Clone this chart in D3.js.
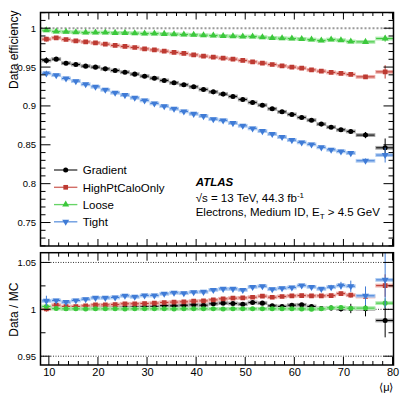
<!DOCTYPE html>
<html><head><meta charset="utf-8">
<script src="https://cdn.jsdelivr.net/npm/d3@7"></script>
<style>
body{margin:0;background:#fff}
svg{display:block}
text{font-family:"Liberation Sans",Arial,Helvetica,sans-serif;fill:#000}
</style>
</head><body>
<svg id="c" width="407" height="395"></svg>
<script>
// ---------------- data ----------------
const muCenters = [9.5, 11.5, 13.5, 15.5, 17.5, 19.5, 21.5, 23.5, 25.5, 27.5, 29.5, 31.5, 33.5, 35.5, 37.5, 39.5,
  41.5, 43.5, 45.5, 47.5, 49.5, 51.5, 53.5, 55.5, 57.5, 59.5, 61.5, 63.5, 65.5, 67.5, 69.5, 71.5, 74.5, 78.5];
const muHalfWidths = [1,1,1,1,1,1,1,1,1,1,1,1,1,1,1,1,1,1,1,1,1,1,1,1,1,1,1,1,1,1,1,1,2,2];

const seriesNames = ["Gradient", "HighPtCaloOnly", "Loose", "Tight"];

// data efficiency (top panel)
const effGradient = [0.9585, 0.9602, 0.9550, 0.9533, 0.9512, 0.9499, 0.9477, 0.9456, 0.9434, 0.9409, 0.9383, 0.9357,
  0.9328, 0.9297, 0.9272, 0.9246, 0.9212, 0.9181, 0.9152, 0.9122, 0.9083, 0.9045, 0.9010, 0.8963, 0.8924, 0.8891,
  0.8852, 0.8817, 0.8766, 0.8727, 0.8693, 0.8672, 0.8625, 0.8461];
const effHighPt = [0.9859, 0.9876, 0.9855, 0.9837, 0.9824, 0.9811, 0.9794, 0.9778, 0.9765, 0.9752, 0.9734, 0.9721,
  0.9704, 0.9688, 0.9675, 0.9657, 0.9640, 0.9627, 0.9614, 0.9602, 0.9585, 0.9567, 0.9550, 0.9533, 0.9515, 0.9499,
  0.9486, 0.9464, 0.9447, 0.9431, 0.9418, 0.9405, 0.9374, 0.9438];
const effLoose = [0.9974, 0.9958, 0.9953, 0.9949, 0.9945, 0.9945, 0.9945, 0.9940, 0.9940, 0.9936, 0.9932, 0.9932,
  0.9927, 0.9923, 0.9919, 0.9915, 0.9910, 0.9906, 0.9901, 0.9897, 0.9893, 0.9893, 0.9884, 0.9875, 0.9871, 0.9867,
  0.9862, 0.9854, 0.9842, 0.9854, 0.9846, 0.9829, 0.9824, 0.9867];
const effTight = [0.9418, 0.9396, 0.9353, 0.9319, 0.9278, 0.9246, 0.9207, 0.9169, 0.9139, 0.9104, 0.9071, 0.9032,
  0.8997, 0.8963, 0.8929, 0.8898, 0.8869, 0.8830, 0.8814, 0.8779, 0.8744, 0.8711, 0.8676, 0.8638, 0.8599, 0.8560,
  0.8531, 0.8505, 0.8467, 0.8436, 0.8415, 0.8393, 0.8294, 0.8368];

const effErrGradient = [0.004,0.002,0.0012,0.001,0.001,0.001,0.001,0.001,0.001,0.001,0.001,0.001,0.001,0.001,0.001,0.001,
  0.001,0.001,0.001,0.001,0.001,0.001,0.001,0.001,0.001,0.001,0.001,0.0012,0.0012,0.0015,0.0018,0.0025,0.004,0.012];
const effErrHighPt = [0.003,0.0015,0.001,0.001,0.001,0.001,0.001,0.001,0.001,0.001,0.001,0.001,0.001,0.001,0.001,0.001,
  0.001,0.001,0.001,0.001,0.001,0.001,0.001,0.001,0.001,0.001,0.001,0.001,0.001,0.0012,0.0015,0.002,0.0025,0.0086];
const effErrLoose = [0.0015,0.0008,0.0006,0.0006,0.0006,0.0006,0.0006,0.0006,0.0006,0.0006,0.0006,0.0006,0.0006,0.0006,0.0006,0.0006,
  0.0006,0.0006,0.0006,0.0006,0.0006,0.0006,0.0006,0.0006,0.0006,0.0006,0.0006,0.0006,0.0007,0.0008,0.001,0.0012,0.0015,0.004];
const effErrTight = [0.0035,0.0015,0.0012,0.001,0.001,0.001,0.001,0.001,0.001,0.001,0.001,0.001,0.001,0.001,0.001,0.001,
  0.001,0.001,0.001,0.001,0.001,0.001,0.001,0.001,0.001,0.001,0.001,0.0012,0.0012,0.0015,0.002,0.0025,0.003,0.0096];

// data / MC (bottom panel)
const ratioGradient = [1.0013, 1.0016, 1.0009, 1.0016, 1.0019, 1.0019, 1.0023, 1.0019, 1.0019, 1.0023, 1.0027, 1.0027,
  1.0040, 1.0037, 1.0044, 1.0048, 1.0044, 1.0059, 1.0066, 1.0062, 1.0055, 1.0073, 1.0066, 1.0037, 1.0030, 1.0044,
  1.0048, 1.0030, 1.0009, 1.0013, 1.0005, 1.0009, 1.0005, 0.9881];
const ratioHighPt = [1.0005, 1.0044, 1.0030, 1.0030, 1.0037, 1.0048, 1.0048, 1.0051, 1.0059, 1.0059, 1.0062, 1.0066,
  1.0073, 1.0077, 1.0080, 1.0087, 1.0090, 1.0101, 1.0112, 1.0119, 1.0122, 1.0129, 1.0140, 1.0129, 1.0137, 1.0144,
  1.0147, 1.0144, 1.0144, 1.0147, 1.0168, 1.0151, 1.0137, 1.0253];
const ratioLoose = [1.0030, 1.0008, 1.0005, 1.0005, 1.0004, 1.0005, 1.0005, 1.0005, 1.0004, 1.0005, 1.0005, 1.0005,
  1.0005, 1.0004, 1.0005, 1.0005, 1.0005, 1.0005, 1.0004, 1.0005, 1.0005, 1.0005, 1.0005, 1.0005, 1.0005, 1.0005,
  1.0004, 1.0002, 1.0005, 1.0016, 1.0020, 1.0012, 1.0013, 1.0066];
const ratioTight = [1.0090, 1.0094, 1.0077, 1.0094, 1.0108, 1.0122, 1.0122, 1.0126, 1.0144, 1.0133, 1.0147, 1.0147,
  1.0165, 1.0176, 1.0172, 1.0183, 1.0186, 1.0207, 1.0218, 1.0218, 1.0207, 1.0239, 1.0246, 1.0215, 1.0225, 1.0232,
  1.0253, 1.0239, 1.0218, 1.0236, 1.0253, 1.0246, 1.0144, 1.0314];

const ratioErrGradient = [0.003,0.001,0.001,0.001,0.001,0.001,0.001,0.001,0.001,0.001,0.001,0.001,0.001,0.001,0.001,0.001,
  0.001,0.001,0.001,0.001,0.001,0.001,0.001,0.0012,0.0012,0.0012,0.0015,0.0015,0.002,0.0025,0.003,0.005,0.008,0.018];
const ratioErrHighPt = [0.003,0.0012,0.001,0.001,0.001,0.001,0.001,0.001,0.001,0.001,0.001,0.001,0.001,0.001,0.001,0.001,
  0.001,0.001,0.001,0.001,0.001,0.001,0.001,0.001,0.001,0.001,0.001,0.0012,0.0012,0.0015,0.002,0.0025,0.004,0.012];
const ratioErrLoose = [0.002,0.0008,0.0006,0.0006,0.0006,0.0006,0.0006,0.0006,0.0006,0.0006,0.0006,0.0006,0.0006,0.0006,0.0006,0.0006,
  0.0006,0.0006,0.0006,0.0006,0.0006,0.0006,0.0006,0.0006,0.0006,0.0006,0.0006,0.0007,0.0008,0.001,0.0015,0.002,0.0025,0.005];
const ratioErrTight = [0.0055,0.0015,0.0012,0.001,0.001,0.001,0.001,0.001,0.001,0.001,0.001,0.001,0.001,0.001,0.001,0.001,
  0.001,0.001,0.001,0.001,0.001,0.001,0.001,0.0012,0.0012,0.0015,0.0015,0.0015,0.002,0.0025,0.004,0.006,0.01,0.03];

const xTickValues = [10, 20, 30, 40, 50, 60, 70, 80];
const topYTickValues = [0.75, 0.8, 0.85, 0.9, 0.95, 1];
const bottomYTickValues = [0.95, 1, 1.05];

// ---------------- layout / style ----------------
const svg = d3.select("#c");
const L = 40.5, R = 393.5;
const topT = 12.5, topB = 246;
const botT = 252.7, botB = 365;

const x = d3.scaleLinear().domain([8.3, 80.2]).range([L, R]);
const yTop = d3.scaleLinear().domain([0.7198, 1.0202]).range([topB, topT]);
const yBot = d3.scaleLinear().domain([0.9406, 1.0604]).range([botB, botT]);

const styles = [
  {name: seriesNames[0], color: "#000000", light: "#a6a6a6", marker: "circle", eff: effGradient, effErr: effErrGradient, ratio: ratioGradient, ratioErr: ratioErrGradient},
  {name: seriesNames[1], color: "#bd3a32", light: "#eeb0ab", marker: "square", eff: effHighPt, effErr: effErrHighPt, ratio: ratioHighPt, ratioErr: ratioErrHighPt},
  {name: seriesNames[2], color: "#3cc83c", light: "#aeeaae", marker: "triangle", ratioMarker: "circle", eff: effLoose, effErr: effErrLoose, ratio: ratioLoose, ratioErr: ratioErrLoose},
  {name: seriesNames[3], color: "#3f7bd6", light: "#b0cdf2", marker: "triangleDown", eff: effTight, effErr: effErrTight, ratio: ratioTight, ratioErr: ratioErrTight}
];

function markerPath(type) {
  if (type === "circle") return d3.symbol(d3.symbolCircle, 20)();
  if (type === "square") return d3.symbol(d3.symbolSquare, 22)();
  return d3.symbol(d3.symbolTriangle, 21)();
}
function drawMarker(g, type, cx, cy, color) {
  const p = g.append("path").attr("d", markerPath(type)).attr("fill", color);
  if (type === "triangleDown") p.attr("transform", `translate(${cx},${cy}) rotate(180)`);
  else p.attr("transform", `translate(${cx},${cy})`);
}

const defs = svg.append("defs");
defs.append("clipPath").attr("id", "clipTop").append("rect").attr("x", L).attr("y", topT).attr("width", R - L).attr("height", topB - topT);
defs.append("clipPath").attr("id", "clipBot").append("rect").attr("x", L).attr("y", botT).attr("width", R - L).attr("height", botB - botT);

function drawSeries(g, y, vals, errs, s, mtype) {
  const bh = 1.9;
  vals.forEach((v, i) => {
    const x0 = x(muCenters[i] - muHalfWidths[i]), x1 = x(muCenters[i] + muHalfWidths[i]);
    const cy = y(v);
    g.append("rect").attr("x", x0).attr("y", cy - bh).attr("width", x1 - x0).attr("height", 2 * bh).attr("fill", s.light);
  });
  vals.forEach((v, i) => {
    const cx = x(muCenters[i]);
    const x0 = x(muCenters[i] - muHalfWidths[i]), x1 = x(muCenters[i] + muHalfWidths[i]);
    const cy = y(v);
    const ePx = Math.abs(y(v + errs[i]) - cy);
    g.append("line").attr("x1", x0 + 0.8).attr("x2", x1 - 0.8).attr("y1", cy).attr("y2", cy).attr("stroke", s.color).attr("stroke-width", 1);
    if (ePx > 1.2) g.append("line").attr("x1", cx).attr("x2", cx).attr("y1", cy - ePx).attr("y2", cy + ePx).attr("stroke", s.color).attr("stroke-width", 1);
    drawMarker(g, mtype, cx, cy, s.color);
  });
}

// ---------------- top panel ----------------
const gTop = svg.append("g").attr("clip-path", "url(#clipTop)");
gTop.append("line").attr("x1", L).attr("x2", R).attr("y1", yTop(1)).attr("y2", yTop(1))
  .attr("stroke", "#9a9a9a").attr("stroke-width", 2).attr("stroke-dasharray", "2,2");
styles.forEach(s => drawSeries(gTop, yTop, s.eff, s.effErr, s, s.marker));

// ---------------- bottom panel ----------------
const gBot = svg.append("g").attr("clip-path", "url(#clipBot)");
bottomYTickValues.forEach(v => {
  gBot.append("line").attr("x1", L).attr("x2", R).attr("y1", yBot(v)).attr("y2", yBot(v))
    .attr("stroke", "#000").attr("stroke-width", 0.8).attr("stroke-dasharray", "1,1.5");
});
styles.forEach(s => drawSeries(gBot, yBot, s.ratio, s.ratioErr, s, s.ratioMarker || s.marker));

// ---------------- axes ----------------
function frameAndTicks(yScale, T, B, yMajor, yMinorStep, xMajLen, xMinLen, yMajLen, yMinLen) {
  const g = svg.append("g");
  const xMinor = d3.range(10, 81, 2);
  xMinor.forEach(t => {
    const major = t % 10 === 0;
    const len = major ? xMajLen : xMinLen;
    const px = x(t);
    g.append("line").attr("x1", px).attr("x2", px).attr("y1", B).attr("y2", B - len).attr("stroke", "#000").attr("stroke-width", 1);
    g.append("line").attr("x1", px).attr("x2", px).attr("y1", T).attr("y2", T + len).attr("stroke", "#000").attr("stroke-width", 1);
  });
  const [d0, d1] = yScale.domain();
  const start = Math.ceil(d0 / yMinorStep - 1e-6);
  for (let k = start; k * yMinorStep <= d1 + 1e-9; k++) {
    const v = k * yMinorStep;
    const major = yMajor.some(m => Math.abs(m - v) < 1e-6);
    const len = major ? yMajLen : yMinLen;
    const py = yScale(v);
    g.append("line").attr("x1", L).attr("x2", L + len).attr("y1", py).attr("y2", py).attr("stroke", "#000").attr("stroke-width", 1);
    g.append("line").attr("x1", R).attr("x2", R - len).attr("y1", py).attr("y2", py).attr("stroke", "#000").attr("stroke-width", 1);
  }
  g.append("rect").attr("x", L).attr("y", T).attr("width", R - L).attr("height", B - T)
    .attr("fill", "none").attr("stroke", "#000").attr("stroke-width", 1.5);
  return g;
}
frameAndTicks(yTop, topT, topB, topYTickValues.concat([0.7, 1.0]), 0.01, 7, 3.5, 10, 5);
frameAndTicks(yBot, botT, botB, bottomYTickValues, 0.025, 8, 4, 10, 5);

// tick labels
const yTopAxis = d3.axisLeft(yTop).tickValues(topYTickValues).tickSize(0).tickPadding(0)
  .tickFormat(d => d === 1 ? "1" : d3.format(".2~f")(d));
const gyt = svg.append("g").attr("transform", `translate(${L - 4.5},0)`).call(yTopAxis);
gyt.select(".domain").remove();
gyt.selectAll("text").attr("font-size", 9.5).attr("font-family", "'Liberation Sans', Arial, sans-serif").attr("fill", "#000");

const yBotAxis = d3.axisLeft(yBot).tickValues(bottomYTickValues).tickSize(0).tickPadding(0)
  .tickFormat(d => d === 1 ? "1" : d3.format(".2f")(d));
const gyb = svg.append("g").attr("transform", `translate(${L - 4.5},0)`).call(yBotAxis);
gyb.select(".domain").remove();
gyb.selectAll("text").attr("font-size", 9.5).attr("font-family", "'Liberation Sans', Arial, sans-serif").attr("fill", "#000");

const xAxis = d3.axisBottom(x).tickValues(xTickValues).tickSize(0).tickPadding(0).tickFormat(d3.format("d"));
const gx = svg.append("g").attr("transform", `translate(0,${botB + 3})`).call(xAxis);
gx.select(".domain").remove();
gx.selectAll("text").attr("font-size", 11).attr("font-family", "'Liberation Sans', Arial, sans-serif").attr("fill", "#000");

// axis titles
svg.append("text").attr("transform", `translate(17.5,${topT - 2}) rotate(-90)`).attr("text-anchor", "end")
  .attr("font-size", 12).text("Data efficiency");
svg.append("text").attr("transform", `translate(18,${botT + 30}) rotate(-90)`).attr("text-anchor", "end")
  .attr("font-size", 12).text("Data / MC");
svg.append("text").attr("x", R).attr("y", 391).attr("text-anchor", "end").attr("font-size", 11).text("\u27E8\u03BC\u27E9");

// legend
const legY = [170, 187.3, 204.6, 221.8];
styles.forEach((s, i) => {
  const gy = legY[i];
  svg.append("line").attr("x1", 54).attr("x2", 77.3).attr("y1", gy).attr("y2", gy).attr("stroke", s.light).attr("stroke-width", 1.5);
  svg.append("line").attr("x1", 54).attr("x2", 77.3).attr("y1", gy).attr("y2", gy).attr("stroke", s.color).attr("stroke-width", 0.7);
  drawMarker(svg, s.marker, 65.7, gy, s.color);
  svg.append("text").attr("x", 82.7).attr("y", gy + 4.2).attr("font-size", 11.5).text(s.name);
});

// ATLAS label
svg.append("text").attr("x", 195.7).attr("y", 186).attr("font-size", 11.5).attr("font-weight", "bold").attr("font-style", "italic").text("ATLAS");
const t2 = svg.append("text").attr("x", 195.7).attr("y", 201.5).attr("font-size", 11.5);
t2.append("tspan").text("\u221As = 13 TeV, 44.3 fb");
t2.append("tspan").attr("dy", -4).attr("font-size", 8).text("-1");
const t3 = svg.append("text").attr("x", 195.7).attr("y", 216).attr("font-size", 11.5);
t3.append("tspan").text("Electrons, Medium ID, E");
t3.append("tspan").attr("dy", 3).attr("font-size", 8).text("T");
t3.append("tspan").attr("dy", -3).text(" > 4.5 GeV");
</script>
</body></html>
